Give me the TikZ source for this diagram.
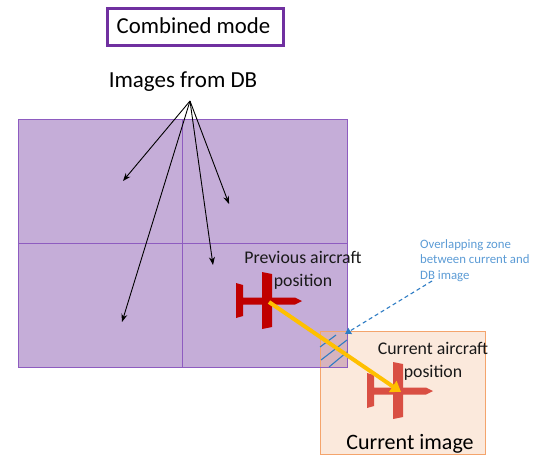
\documentclass[tikz,border=0pt]{standalone}
\usepackage{fontspec}
\setmainfont{Carlito}
\usetikzlibrary{arrows.meta}
\definecolor{purp}{HTML}{7030A0}
\definecolor{gridp}{HTML}{8E5CC0}
\definecolor{fillp}{HTML}{C5ADD8}
\definecolor{orline}{HTML}{F4A46C}
\definecolor{orfill}{HTML}{FBE9DC}
\definecolor{overlap}{HTML}{D6B3BE}
\definecolor{hatch}{HTML}{2E7CC4}
\definecolor{bluetxt}{HTML}{5B9BD5}
\definecolor{darkred}{HTML}{C00000}
\definecolor{lightred}{HTML}{D94F43}
\definecolor{goldy}{HTML}{FFC000}
\tikzset{
  x=1pt,y=-1pt,
  txt/.style={inner sep=0pt,align=center,text=black!90,font=\fontsize{17.8}{22.5}\selectfont},
  dbarrow/.style={draw=black,line width=0.9pt,-{Stealth[length=8pt,width=6pt]}},
  hatchline/.style={draw=hatch,line width=1.1pt},
}
\newcommand{\planeshape}[2]{%
  \begin{scope}[shift={(#1)}]
    \fill[#2] (0,0) -- (7,2) -- (7,14.5) -- (59,14.5) -- (66,18) -- (59,21.5) -- (36,21.5) -- (36,44) -- (26,46) -- (26,21.5) -- (7,21.5) -- (7,33) -- (0,35) -- cycle;
    \fill[#2] (26,-11) -- (36,-9) -- (36,16) -- (26,16) -- cycle;
  \end{scope}}
\begin{document}
\begin{tikzpicture}
\useasboundingbox (0,0) rectangle (537,455);
% DB images
\node[draw=gridp,fill=fillp,line width=0.9pt,minimum width=329pt,minimum height=248pt,inner sep=0pt,anchor=north west] (db) at (18,119) {};
\draw[gridp,line width=0.8pt] (182,119) -- (182,367);
\draw[gridp,line width=0.8pt] (18,243) -- (347,243);
% current image
\node[draw=orline,fill=orfill,line width=1pt,minimum width=165pt,minimum height=123pt,inner sep=0pt,anchor=north west] (cur) at (320,331) {};
% overlap
\fill[overlap] (320,331) rectangle (347,367);
\draw[gridp,line width=0.9pt] (347,331) -- (347,367) -- (320,367);
\draw[orline,line width=1pt] (320,367) -- (320,331) -- (347,331);
\draw[hatchline] (320,347) -- (336,335);
\draw[hatchline] (321,360) -- (347,340);
\draw[hatchline] (329,367) -- (347,352);
% title
\node[draw=purp,line width=2.4pt,minimum width=176pt,minimum height=37pt,inner sep=0pt] (title) at (195.5,27) {};
\node[inner sep=0pt] (titletxt) at (193.5,26) {\fontsize{22.8}{27}\selectfont Combined mode};
\node[inner sep=0pt] (img) at (183,82) {\fontsize{23}{27}\selectfont Images from DB};
% arrows
\coordinate (top) at (190,101);
\coordinate (a1) at (123,181);
\coordinate (a2) at (122,322);
\coordinate (a3) at (213,265);
\coordinate (a4) at (229,204);
\draw[dbarrow] (top) -- (a1);
\draw[dbarrow] (top) -- (a2);
\draw[dbarrow] (top) -- (a3);
\draw[dbarrow] (top) -- (a4);
% planes
\planeshape{236,283}{darkred}
\planeshape{367,373}{lightred}
% labels
\node[txt] (prev) at (303,270.5) {Previous aircraft\\position};
\node[txt] (curp) at (433,361.5) {Current aircraft\\position};
\node[inner sep=0pt] (curimg) at (410,443.5) {\fontsize{22}{26}\selectfont Current image};
\node[inner sep=0pt,align=left,anchor=north west,text=bluetxt,font=\fontsize{12.8}{15.7}\selectfont] (ov) at (420,239) {Overlapping zone\\between current and\\DB image};
% yellow line
\coordinate (y1) at (269,302);
\coordinate (y2) at (401,392);
\draw[goldy,line width=4pt,-{Triangle[length=10pt,width=13pt]}] (y1) -- (y2);
% dashed
\coordinate (d1) at (432,281);
\coordinate (d2) at (345,334);
\draw[hatch,line width=1.1pt,dash pattern=on 4pt off 3pt,-{Triangle[length=6pt,width=7pt]}] (d1) -- (d2);
\end{tikzpicture}
\end{document}
